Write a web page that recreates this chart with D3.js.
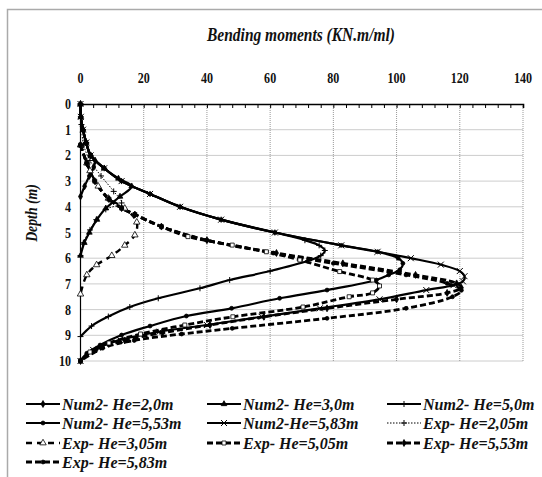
<html>
<script src="https://d3js.org/d3.v7.min.js"></script>
<body style="margin:0">
<svg id="chart" width="542" height="477"></svg>
<script>
// depth (m), bending moment (KN.m/ml)
const num2He20 = [[0,0],[0.5,0.1],[1,0.8],[1.5,1.8],[2,3.2],[2.2,4.6],[2.45,4.2],[2.8,2.8],[3.2,1.3],[3.6,0]];
const num2He30 = [[0,0],[0.5,0.1],[1,0.8],[1.5,1.8],[2,3.2],[2.5,7.5],[2.9,12],[3.2,16.2],[3.6,12.5],[4.06,8],[4.5,5.2],[5,2.8],[5.4,1.2],[5.9,0]];
const num2He50 = [[0,0],[0.5,0.1],[1,0.8],[1.5,1.8],[2,3.2],[2.5,7.5],[3,13],[3.5,22],[4,31.5],[4.5,44.5],[5,61.5],[5.3,71],[5.5,75.5],[5.7,77.3],[5.9,76],[6.1,72],[6.5,60],[6.85,47.2],[7.17,37.8],[7.56,24.6],[7.9,15.6],[8.27,8.8],[8.64,3.5],[9.05,0]];
const num2He553 = [[0,0],[0.5,0.1],[1,0.8],[1.5,1.8],[2,3.2],[2.5,7.5],[3,13],[3.5,22],[4,31.5],[4.5,44.5],[5,61.5],[5.5,82.5],[5.75,94],[6,100.5],[6.2,102],[6.45,101],[6.65,97.5],[6.85,93.6],[7.24,78],[7.56,63],[7.95,47.8],[8.25,33.5],[8.64,22],[8.99,13],[9.38,6.2],[9.7,2],[10,0]];
const num2He583 = [[0,0],[0.5,0.1],[1,0.8],[1.5,1.8],[2,3.2],[2.5,7.5],[3,13],[3.5,22],[4,31.5],[4.5,44.5],[5,61.5],[5.5,82.5],[5.75,94],[6,104.5],[6.25,114],[6.5,120],[6.7,121.5],[6.9,121],[7.05,118],[7.24,109.4],[7.6,94.6],[7.95,75.7],[8.28,57.3],[8.6,40],[8.86,25],[9.18,12.5],[9.57,4],[10,0]];
const expHe205 = [[0,0],[0.8,0.3],[1.6,1],[2.2,3],[2.8,6.5],[3.4,10.5],[3.85,13],[4.1,8],[4.5,5],[4.9,3],[5.4,0.9],[5.9,0]];
const expHe305 = [[1.6,0],[2.3,2],[2.6,3],[3.2,5.6],[3.67,8.8],[4.06,14],[4.6,17.8],[5.1,17.2],[5.5,14],[5.9,9.9],[6.26,5.1],[6.65,2],[7.4,0]];
const expHe505 = [[1.6,0],[2.3,2],[3,4.5],[3.7,9],[4.05,13],[4.3,17.2],[4.77,25.6],[5.16,34],[5.49,48],[5.75,58.8],[6.07,69.4],[6.52,82],[6.85,92.4],[7.08,94.6],[7.35,92.4],[7.5,85],[7.9,70.4],[8.28,48.2],[8.6,33],[8.95,19],[9.3,9],[9.65,3],[10,0]];
const expHe553 = [[1.6,0],[2.3,2],[3,4.5],[3.7,9],[4.05,13],[4.3,17.2],[4.77,25.6],[5.3,40],[5.8,62],[6.2,83],[6.65,106],[6.98,119],[7.15,120.5],[7.35,116],[7.6,100],[7.95,78],[8.28,58],[8.6,41],[8.9,26],[9.2,14],[9.55,5],[10,0]];
const expHe583 = [[1.6,0],[2.3,2],[3,4.5],[3.7,9],[4.05,13],[4.3,17.2],[4.77,25.6],[5.3,40],[5.8,61],[6.2,80],[6.65,103],[6.98,116],[7.25,120.5],[7.5,117.7],[7.95,103],[8.34,78],[8.73,48],[8.95,32],[9.2,17],[9.5,7],[10,0]];

const xTicks = [0, 20, 40, 60, 80, 100, 120, 140];
const yTicks = [0, 1, 2, 3, 4, 5, 6, 7, 8, 9, 10];

const series = [
  { name: "Num2- He=2,0m",  data: num2He20,  dash: null,  width: 2.2, mark: "diamond" },
  { name: "Num2- He=3,0m",  data: num2He30,  dash: null,  width: 2.2, mark: "triangle" },
  { name: "Num2- He=5,0m",  data: num2He50,  dash: null,  width: 2.2, mark: "plus" },
  { name: "Num2- He=5,53m", data: num2He553, dash: null,  width: 2.2, mark: "circle" },
  { name: "Num2-He=5,83m",  data: num2He583, dash: null,  width: 2.2, mark: "times" },
  { name: "Exp- He=2,05m",  data: expHe205,  dash: "1.5,1.5", width: 1, mark: "plus" },
  { name: "Exp- He=3,05m",  data: expHe305,  dash: "6,5", width: 2.4, mark: "otriangle" },
  { name: "Exp- He=5,05m",  data: expHe505,  dash: "6,3", width: 2.8, mark: "osquare" },
  { name: "Exp- He=5,53m",  data: expHe553,  dash: "6,3", width: 2.8, mark: "diamond" },
  { name: "Exp- He=5,83m",  data: expHe583,  dash: "6,3", width: 2.8, mark: "circle" }
];

const svg = d3.select("#chart");

// narrow Times look: squeeze labels a little (squeeze = 1 leaves the text as is)
function label(parent, txt, px, py, size, opts) {
  opts = opts || {};
  const t = parent.append("text")
    .attr("x", px).attr("y", py)
    .attr("text-anchor", opts.anchor || "start")
    .style("font-family", "'Liberation Serif'")
    .style("font-size", size + "px")
    .style("font-weight", "bold")
    .style("font-style", opts.italic ? "italic" : "normal")
    .style("fill", "#111")
    .text(txt);
  const squeeze = opts.squeeze || 0.86;
  if (squeeze !== 1) {
    const w = t.node().getComputedTextLength();
    t.attr("textLength", w * squeeze).attr("lengthAdjust", "spacingAndGlyphs");
  }
  return t;
}

const x = d3.scaleLinear().domain([0, 140]).range([80.5, 523]);
const y = d3.scaleLinear().domain([0, 10]).range([104, 361]);

// titles
label(svg, "Bending moments (KN.m/ml)", 301, 41, 18, { anchor: "middle", italic: true });
label(svg, "Depth (m)", 0, 0, 16, { anchor: "middle", italic: true })
  .attr("x", null).attr("y", null)
  .attr("transform", "translate(37,213) rotate(-90)");

// frame
svg.append("path")
  .attr("d", "M7.5,477 L7.5,9.5 L542,9.5")
  .attr("fill", "none").attr("stroke", "#aaa").attr("stroke-width", 1.5);

// grid
svg.append("g").selectAll("line").data(xTicks.slice(1)).enter().append("line")
  .attr("x1", d => x(d)).attr("x2", d => x(d))
  .attr("y1", y(0)).attr("y2", y(10))
  .attr("stroke", "#999").attr("stroke-dasharray", "1,1");
svg.append("g").selectAll("line").data(yTicks.slice(1)).enter().append("line")
  .attr("x1", x(0)).attr("x2", x(140))
  .attr("y1", d => y(d)).attr("y2", d => y(d))
  .attr("stroke", "#999").attr("stroke-dasharray", "1,1");

// top axis
const topAxis = d3.axisTop(x).tickValues(d3.range(0, 141, 4)).tickSize(-4).tickFormat("");
svg.append("g").attr("transform", "translate(0," + y(0) + ")").call(topAxis)
  .call(g => g.select(".domain").attr("stroke-width", 1.6))
  .call(g => g.selectAll(".tick line").attr("stroke-width", 1));
xTicks.forEach(t => label(svg, t, x(t), 83, 14, { anchor: "middle" }));

// left axis
svg.append("line")
  .attr("x1", x(0)).attr("x2", x(0)).attr("y1", y(0)).attr("y2", y(10))
  .attr("stroke", "black").attr("stroke-width", 1.2);
yTicks.forEach(t => label(svg, t, 71, y(t) + 5, 14, { anchor: "end" }));

// markers
function markerPath(kind) {
  if (kind === "plus") return "M-3,0H3M0,-3V3";
  if (kind === "times") return "M-3,-3L3,3M-3,3L3,-3";
  if (kind === "diamond" ) return d3.symbol(d3.symbolDiamond, 14)();
  if (kind === "triangle") return d3.symbol(d3.symbolTriangle, 14)();
  if (kind === "otriangle") return d3.symbol(d3.symbolTriangle, 18)();
  if (kind === "osquare") return d3.symbol(d3.symbolSquare, 16)();
  return d3.symbol(d3.symbolCircle, 12)();
}
function drawMarker(g, kind, px, py) {
  const open = kind === "otriangle" || kind === "osquare";
  const stroked = kind === "plus" || kind === "times";
  g.append("path")
    .attr("d", markerPath(kind))
    .attr("transform", "translate(" + px + "," + py + ")")
    .attr("fill", stroked ? "none" : (open ? "white" : "black"))
    .attr("stroke", "black")
    .attr("stroke-width", stroked ? 1 : 0.8);
}

const line = d3.line()
  .x(d => x(d[1]))
  .y(d => y(d[0]))
  .curve(d3.curveCatmullRom.alpha(0.5));

const plot = svg.append("g");
series.forEach(s => {
  plot.append("path")
    .datum(s.data)
    .attr("d", line)
    .attr("fill", "none")
    .attr("stroke", "black")
    .attr("stroke-width", s.width)
    .attr("stroke-dasharray", s.dash);
});
series.forEach(s => {
  const g = plot.append("g");
  s.data.forEach(d => drawMarker(g, s.mark, x(d[1]), y(d[0])));
});

// legend
const legendCols = [26, 207, 387];
const legendRows = [404, 423, 443, 462];
series.forEach((s, i) => {
  const lx = legendCols[i % 3];
  const ly = legendRows[Math.floor(i / 3)];
  svg.append("line")
    .attr("x1", lx).attr("x2", lx + 34).attr("y1", ly).attr("y2", ly)
    .attr("stroke", "black")
    .attr("stroke-width", s.width)
    .attr("stroke-dasharray", s.dash);
  drawMarker(svg, s.mark, lx + 17, ly);
  label(svg, s.name, lx + 36, ly + 6, 16, { italic: true, squeeze: 1 });
});
</script>
</body>
</html>
